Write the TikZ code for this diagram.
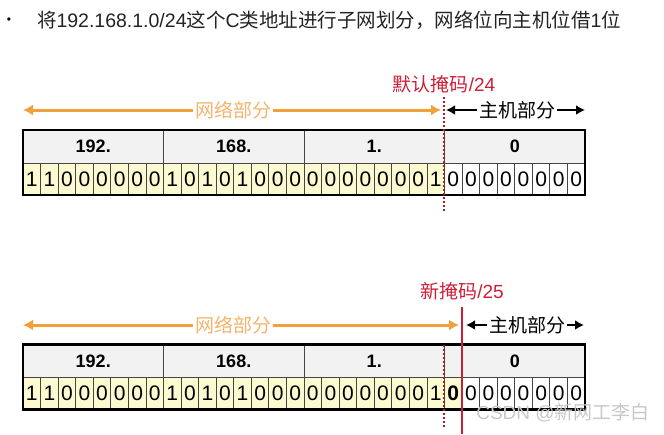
\documentclass[tikz,border=0pt]{standalone}
\usepackage{fontspec}
\setmainfont{Liberation Sans}
\newfontfamily\cjk{Noto Sans CJK SC}
\usetikzlibrary{arrows.meta}
\definecolor{linegray}{RGB}{70,70,70}
\definecolor{headfill}{RGB}{242,242,242}
\definecolor{netfill}{RGB}{252,250,208}
\definecolor{netorange}{RGB}{242,160,60}
\definecolor{netlight}{RGB}{244,180,110}
\definecolor{maskred}{RGB}{205,30,55}
\definecolor{maskdark}{RGB}{170,30,35}
\definecolor{titlegray}{RGB}{35,35,35}
\definecolor{markgray}{RGB}{200,200,200}
\newcommand\netbits{1,1,0,0,0,0,0,0,1,0,1,0,1,0,0,0,0,0,0,0,0,0,0,1}

\begin{document}
\begin{tikzpicture}[x=1pt, y=-1pt]
        \tikzstyle{every node}=[font=\fontsize{19}{22}\selectfont, inner sep=0pt, outer sep=0pt]
        \tikzstyle{octet}=[draw=linegray, line width=.8pt, fill=headfill, minimum width=140.5pt, minimum height=33pt, font=\fontsize{18}{20}\selectfont\bfseries]
        \tikzstyle{netbit}=[draw=linegray, line width=.8pt, fill=netfill, minimum width=17.5625pt, minimum height=32pt, font=\fontsize{21}{22}\selectfont]
        \tikzstyle{hostbit}=[netbit, fill=white]
        \tikzstyle{frame}=[line width=2.4pt]
        \tikzstyle{netarrow}=[{Latex[length=10pt,width=11pt]}-{Latex[length=10pt,width=11pt]}, draw=netorange, line width=3pt]
        \tikzstyle{hostarrow}=[{Latex[length=9pt,width=10pt]}-{Latex[length=9pt,width=10pt]}, line width=2.4pt]
        \tikzstyle{netlabel}=[fill=white, inner sep=2pt, text=netlight]
        \tikzstyle{hostlabel}=[fill=white, inner sep=2pt]
        \tikzstyle{masklabel}=[text=maskred]
        \tikzstyle{oldmask}=[draw=maskdark, line width=2pt, dash pattern=on 2pt off 2pt]
        \tikzstyle{newmask}=[draw=maskred, line width=2pt]
        \useasboundingbox (0,0) rectangle (664,434);

        % title
        \node (bullet) at (9,21) {\fontsize{12}{12}\selectfont\textbullet};
        \node [anchor=west, text=titlegray, font=\fontsize{19.5}{22}\selectfont] (title) at (37,20) {{\cjk 将}192.168.1.0/24{\cjk 这个}C{\cjk 类地址进行子网划分，网络位向主机位借}1{\cjk 位}};

        % default mask /24
        \node [octet] (toct1) at (93.25,146.5) {192.};
        \node [octet] (toct2) at (233.75,146.5) {168.};
        \node [octet] (toct3) at (374.25,146.5) {1.};
        \node [octet] (toct4) at (514.75,146.5) {0};
        \foreach \b [count=\i from 0] in \netbits
          \node [netbit] (tbit\i) at ({23+17.5625*(\i+.5)},179) {\b};
        \foreach \i in {24,...,31}
          \node [hostbit] (tbit\i) at ({23+17.5625*(\i+.5)},179) {0};
        \draw [frame] (toct1.north west) rectangle (tbit31.south east);
        \coordinate (tmtop) at (444,97);
        \coordinate (tmbot) at (444,212);
        \draw [oldmask] (tmtop) -- (tmbot);
        \node [masklabel] (tmask) at (444,84) {{\cjk 默认掩码}/24};
        \coordinate (tnl) at (23,110);
        \coordinate (tnr) at (441,110);
        \coordinate (thl) at (446,110);
        \coordinate (thr) at (585,110);
        \draw [netarrow] (tnl) -- (tnr);
        \node [netlabel] (tnet) at (233,110) {\cjk 网络部分};
        \draw [hostarrow] (thl) -- (thr);
        \node [hostlabel] (thost) at (517,110) {\cjk 主机部分};

        % new mask /25
        \node [octet] (boct1) at (93.25,361) {192.};
        \node [octet] (boct2) at (233.75,361) {168.};
        \node [octet] (boct3) at (374.25,361) {1.};
        \node [octet] (boct4) at (514.75,361) {0};
        \foreach \b [count=\i from 0] in \netbits
          \node [netbit] (bbit\i) at ({23+17.5625*(\i+.5)},393.5) {\b};
        \node [netbit, font=\fontsize{21}{22}\selectfont\bfseries] (bbit24) at ({23+17.5625*24.5},393.5) {0};
        \foreach \i in {25,...,31}
          \node [hostbit] (bbit\i) at ({23+17.5625*(\i+.5)},393.5) {0};
        \draw [frame] (boct1.north west) rectangle (bbit31.south east);
        \coordinate (bmtop) at (444,345);
        \coordinate (bmbot) at (444,428);
        \draw [oldmask] (bmtop) -- (bmbot);
        \coordinate (nmtop) at (462,307);
        \coordinate (nmbot) at (462,434);
        \draw [newmask] (nmtop) -- (nmbot);
        \node [masklabel] (bmask) at (462,291) {{\cjk 新掩码}/25};
        \coordinate (bnl) at (23,325);
        \coordinate (bnr) at (459,325);
        \coordinate (bhl) at (466,325);
        \coordinate (bhr) at (584,325);
        \draw [netarrow] (bnl) -- (bnr);
        \node [netlabel] (bnet) at (233,325) {\cjk 网络部分};
        \draw [hostarrow] (bhl) -- (bhr);
        \node [hostlabel] (bhost) at (527,325) {\cjk 主机部分};

        \node [text=markgray] (mark) at (563,413) {CSDN @{\cjk 新网工李白}};
\end{tikzpicture}
\end{document}
